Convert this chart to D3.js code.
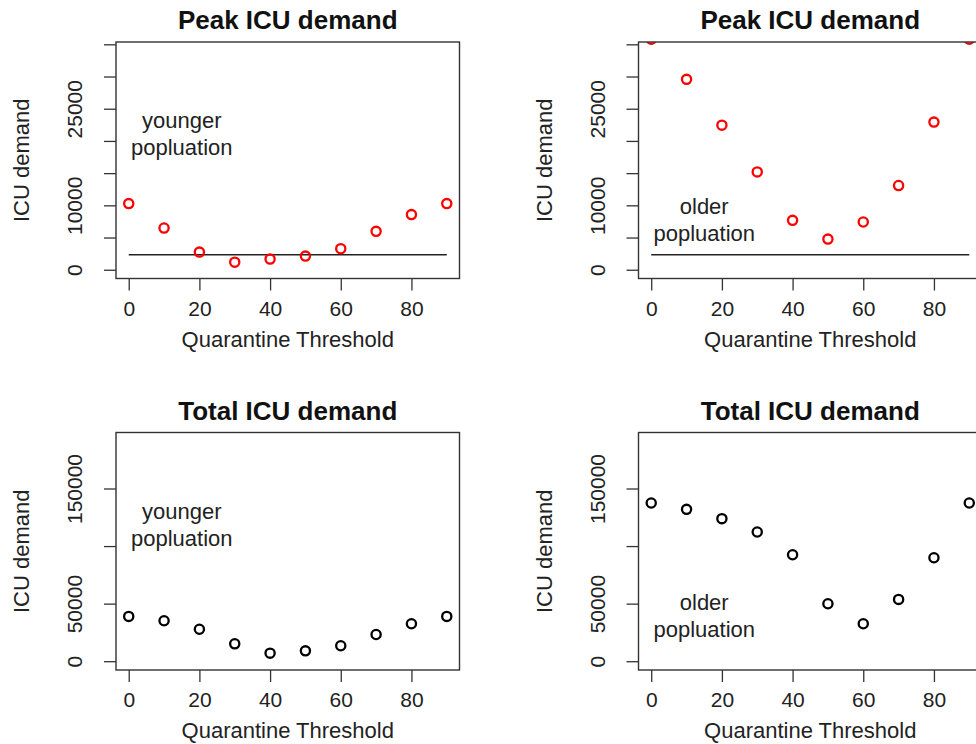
<html>
<head>
	<script src="https://d3js.org/d3.v7.min.js"></script>
	<style>
		body { margin: 0; background: #fff; }
		text { font-family: "Liberation Sans", Arial, sans-serif; fill: #222; }
	</style>
</head>
<body>
	<script>

// quarantine thresholds on the x axis
const thresholds = [0, 10, 20, 30, 40, 50, 60, 70, 80, 90];

// peak ICU demand (top row, red)
const peakYounger = [10270, 6470, 2740, 1180, 1650, 2120, 3270, 5960, 8560, 10270];
const peakOlder = [35800, 29560, 22450, 15190, 7670, 4760, 7410, 13070, 22920, 35800];

// total ICU demand (bottom row, black)
const totalYounger = [38900, 35100, 27800, 15100, 7000, 9000, 13400, 23200, 32500, 38900];
const totalOlder = [137400, 131900, 123800, 112200, 92500, 49900, 32500, 53700, 89900, 137400];

const icuCapacity = 2330;

const xTicks = [0, 20, 40, 60, 80];
const peakTicks = [0, 5000, 10000, 15000, 20000, 25000, 30000, 35000];
const peakTickLabels = [0, 10000, 25000];
const totalTicks = [0, 50000, 100000, 150000];
const totalTickLabels = [0, 50000, 150000];

const titles = ["Peak ICU demand", "Total ICU demand"];
const groupNotes = [["younger", "popluation"], ["older", "popluation"]];
const noteX = 15;
const peakNoteY = [21000, 7700];
const totalNoteY = [118000, 39500];

let canvasW = 976;
let canvasH = 744;

let svg = d3.select("body").append("svg")
	.attr("width", canvasW)
	.attr("height", canvasH);

let cols = [{left: 116, right: 459.5}, {left: 638.5, right: 982}];
let rows = [{top: 42, bottom: 278.5}, {top: 432.5, bottom: 670}];

function padded(lo, hi) {
	let p = (hi - lo) * 0.04;
	return [lo - p, hi + p];
}

function panel(ci, ri, values, color, ymax, ticks, tickLabels, note, noteY, capacity) {
	let c = cols[ci], r = rows[ri];
	let id = "clip" + ci + ri;

	let x = d3.scaleLinear().domain(padded(0, 90)).range([c.left, c.right]);
	let y = d3.scaleLinear().domain(padded(0, ymax)).range([r.bottom, r.top]);

	let g = svg.append("g");

	g.append("clipPath").attr("id", id)
		.append("rect")
		.attr("x", c.left).attr("y", r.top)
		.attr("width", c.right - c.left).attr("height", r.bottom - r.top);

	// title
	g.append("text")
		.attr("x", (c.left + c.right) / 2)
		.attr("y", r.top - 13)
		.attr("text-anchor", "middle")
		.attr("font-size", "26px")
		.attr("font-weight", "bold")
		.style("fill", "#111")
		.text(titles[ri]);

	// x axis
	let xAxis = g.append("g")
		.attr("transform", `translate(0,${r.bottom})`)
		.call(d3.axisBottom(x).tickValues(xTicks).tickSize(12).tickSizeOuter(0).tickPadding(8));
	xAxis.select(".domain").remove();
	xAxis.selectAll("line").attr("stroke", "#333").attr("stroke-width", 1.3);
	xAxis.selectAll("text")
		.attr("font-size", "21px")
		.attr("dy", 0)
		.attr("y", 37);

	// y axis
	let yAxis = g.append("g")
		.attr("transform", `translate(${c.left},0)`)
		.call(d3.axisLeft(y).tickValues(ticks).tickSize(12).tickSizeOuter(0)
			.tickFormat(d => tickLabels.includes(d) ? String(d) : ""));
	yAxis.select(".domain").remove();
	yAxis.selectAll("line").attr("stroke", "#333").attr("stroke-width", 1.3);
	yAxis.selectAll("text")
		.attr("font-size", "21px")
		.attr("text-anchor", "middle")
		.attr("x", 0)
		.attr("dy", 0)
		.attr("y", -34)
		.attr("transform", "rotate(-90)");

	// axis titles
	g.append("text")
		.attr("x", (c.left + c.right) / 2)
		.attr("y", r.bottom + 68)
		.attr("text-anchor", "middle")
		.attr("font-size", "22px")
		.text("Quarantine Threshold");

	g.append("text")
		.attr("text-anchor", "middle")
		.attr("font-size", "22px")
		.attr("transform", `translate(${c.left - 87},${(r.top + r.bottom) / 2}) rotate(-90)`)
		.text("ICU demand");

	// annotation
	let nt = g.append("text")
		.attr("text-anchor", "middle")
		.attr("font-size", "22px")
		.attr("x", x(noteX))
		.attr("y", y(noteY) - 6);
	nt.selectAll("tspan")
		.data(note)
		.enter()
		.append("tspan")
		.attr("x", x(noteX))
		.attr("dy", (d, i) => i == 0 ? 0 : 27)
		.text(d => d);

	let inner = g.append("g").attr("clip-path", `url(#${id})`);

	if (capacity != null) {
		inner.append("line")
			.attr("x1", x(0)).attr("x2", x(90))
			.attr("y1", y(capacity)).attr("y2", y(capacity))
			.attr("stroke", "#222")
			.attr("stroke-width", 1.4);
	}

	inner.selectAll("circle")
		.data(thresholds)
		.enter()
		.append("circle")
		.attr("cx", d => x(d))
		.attr("cy", (d, i) => y(values[i]))
		.attr("r", 4.6)
		.attr("fill", "none")
		.attr("stroke", color)
		.attr("stroke-width", 2.3);

	// box
	g.append("rect")
		.attr("x", c.left).attr("y", r.top)
		.attr("width", c.right - c.left).attr("height", r.bottom - r.top)
		.attr("fill", "none")
		.attr("stroke", "#333")
		.attr("stroke-width", 1.4);
}

panel(0, 0, peakYounger, "#ff0000", 34000, peakTicks, peakTickLabels, groupNotes[0], peakNoteY[0], icuCapacity);
panel(1, 0, peakOlder, "#ff0000", 34000, peakTicks, peakTickLabels, groupNotes[1], peakNoteY[1], icuCapacity);
panel(0, 1, totalYounger, "#000000", 191000, totalTicks, totalTickLabels, groupNotes[0], totalNoteY[0], null);
panel(1, 1, totalOlder, "#000000", 191000, totalTicks, totalTickLabels, groupNotes[1], totalNoteY[1], null);

	</script>
</body>
</html>
